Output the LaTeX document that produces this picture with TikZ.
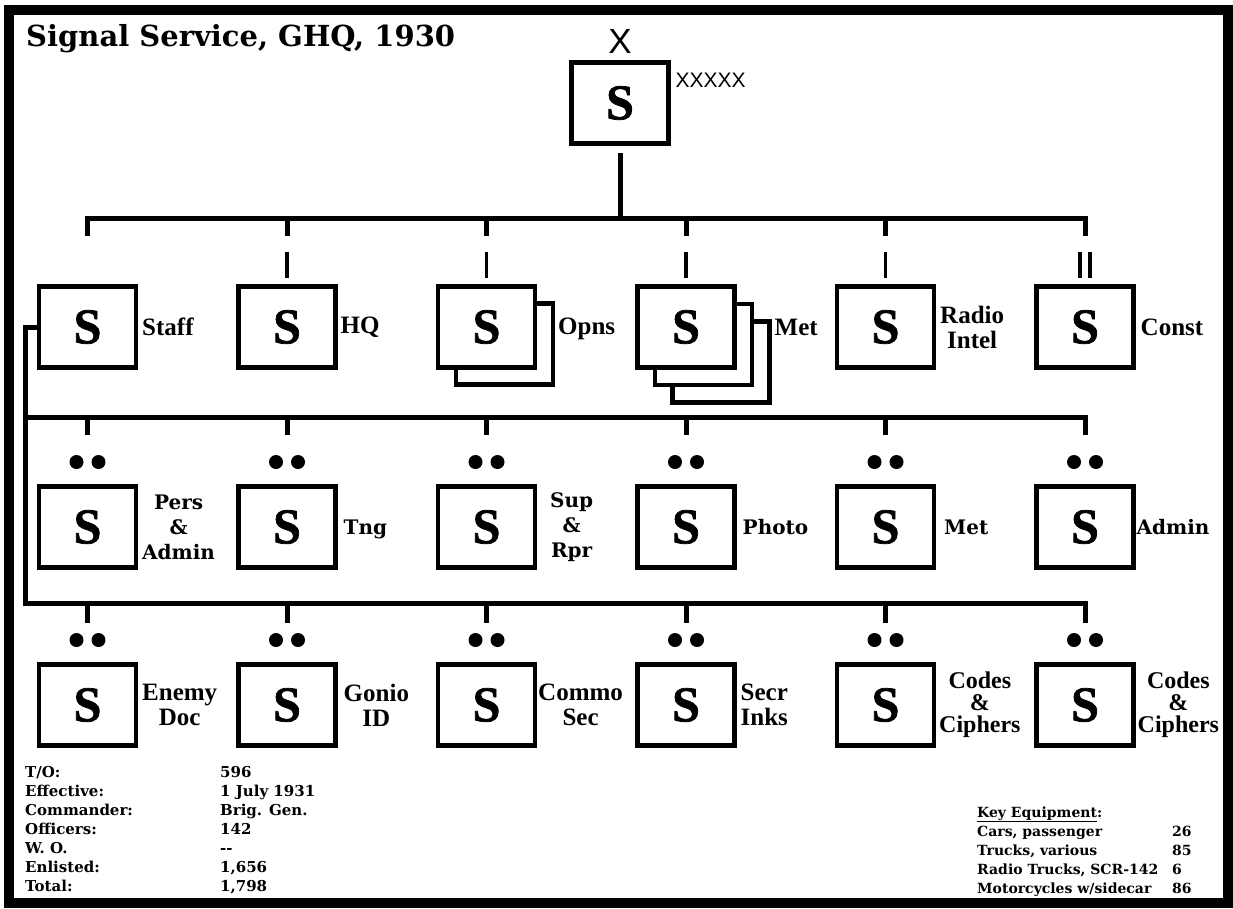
\documentclass[tikz,border=0pt]{standalone}
\usepackage{fontspec}
\setmainfont{Liberation Serif}
\newfontfamily\geo{DejaVu Serif}
\newfontfamily\sans{Liberation Sans}
\newfontfamily\symfont[FakeBold=1.5]{Liberation Serif}
\usetikzlibrary{positioning}

\begin{document}
\begin{tikzpicture}[
      x=1pt, y=-1pt,
      node distance=102.5pt,
      unit/.style={
        draw,
        line width=4.5pt,
        fill=white,
        minimum width=97pt,
        minimum height=81pt,
        inner sep=0pt,
        outer sep=0pt,
        font={\symfont\bfseries\fontsize{50}{50}\selectfont}
      },
      lbl/.style={
        align=center,
        inner sep=0pt,
        font={\bfseries\fontsize{25}{25}\selectfont}
      },
      lblg/.style={
        align=center,
        inner sep=0pt,
        font={\geo\bfseries\fontsize{20}{25}\selectfont}
      },
      bus/.style={line width=5pt},
      tick/.style={line width=3.5pt},
      shadow/.style={line width=4.5pt}
    ]

    \useasboundingbox (0,0) rectangle (1233,908);
    \draw[line width=10pt] (9,10) rectangle (1228,903);

    \node[anchor=base west, inner sep=0pt, font={\geo\bfseries\fontsize{29}{29}\selectfont}] (title) at (26,46) {Signal Service, GHQ, 1930};

    % top echelon
    \node[unit] (gen) at (620,103) {S};
    \node[anchor=base, inner sep=0pt, font={\sans\fontsize{35}{35}\selectfont}] (gen-x) at ([yshift=9pt]gen.north) {X};
    \node[anchor=base west, inner sep=0pt, font={\sans\fontsize{21}{21}\selectfont}] (gen-xx) at ([xshift=7pt,yshift=-24.5pt]gen.north east) {XXXXX};

    % first row
    \node[unit] (staff) at (87.5,327) {S};
    \node[unit, right=of staff] (hq) {S};
    \node[unit, right=of hq] (opns) {S};
    \node[unit, right=of opns] (met) {S};
    \node[unit, right=of met] (radint) {S};
    \node[unit, right=of radint] (const) {S};

    \draw[shadow] ([yshift=-17pt]opns.north east) -| ([xshift=18pt,yshift=-17pt]opns.south east) -| ([xshift=18pt]opns.south west);
    \draw[shadow] ([yshift=-17.5pt]met.north east) -| ([xshift=17.5pt,yshift=-17.5pt]met.south east) -| ([xshift=17.5pt]met.south west);
    \draw[shadow] ([xshift=17.5pt,yshift=-35pt]met.north east) -| ([xshift=35pt,yshift=-35pt]met.south east) -| ([xshift=35pt,yshift=-17.5pt]met.south west);

    \node[lbl, right=6pt of staff] (staff-l) {Staff};
    \node[lbl, right=5pt of hq] (hq-l) {HQ};
    \node[lbl, right=23pt of opns, yshift=-2pt] (opns-l) {Opns};
    \node[lbl, right=40pt of met] (met-l) {Met};
    \node[lbl, right=6pt of radint] (radint-l) {Radio\\Intel};
    \node[lbl, right=7pt of const] (const-l) {Const};

    % second row
    \node[unit] (pers) at (87.5,527) {S};
    \node[unit, right=of pers] (tng) {S};
    \node[unit, right=of tng] (sup) {S};
    \node[unit, right=of sup] (photo) {S};
    \node[unit, right=of photo] (metsec) {S};
    \node[unit, right=of metsec] (admin) {S};

    \node[lblg, right=6pt of pers] (pers-l) {Pers\\\&\\Admin};
    \node[lblg, right=8pt of tng, yshift=-2pt] (tng-l) {Tng};
    \node[lblg, right=15pt of sup] (sup-l) {Sup\\\&\\Rpr};
    \node[lblg, right=8pt of photo] (photo-l) {Photo};
    \node[lblg, right=10pt of metsec] (metsec-l) {Met};
    \node[lblg, right=3pt of admin] (admin-l) {Admin};

    % third row
    \node[unit] (enemy) at (87.5,705) {S};
    \node[unit, right=of enemy] (gonio) {S};
    \node[unit, right=of gonio] (commo) {S};
    \node[unit, right=of commo] (secr) {S};
    \node[unit, right=of secr] (codes) {S};
    \node[unit, right=of codes] (codesb) {S};

    \node[lbl, right=6pt of enemy] (enemy-l) {Enemy\\Doc};
    \node[lbl, right=8pt of gonio] (gonio-l) {Gonio\\ID};
    \node[lbl, right=3pt of commo] (commo-l) {Commo\\Sec};
    \node[lbl, right=6pt of secr] (secr-l) {Secr\\Inks};
    \node[lbl, font={\bfseries\fontsize{24}{22}\selectfont}, right=5pt of codes] (codes-l) {Codes\\\&\\Ciphers};
    \node[lbl, font={\bfseries\fontsize{24}{22}\selectfont}, right=4pt of codesb] (codesb-l) {Codes\\\&\\Ciphers};

    % size marks
    \foreach \n in {hq,opns,met,radint}
      \draw[tick] ([yshift=9pt]\n.north) -- ++(0,-26);
    \draw[tick] ([xshift=-5pt,yshift=9pt]const.north) -- ++(0,-26);
    \draw[tick] ([xshift=5pt,yshift=9pt]const.north) -- ++(0,-26);
    \foreach \n in {pers,tng,sup,photo,metsec,admin,enemy,gonio,commo,secr,codes,codesb}
      \fill ([xshift=-11pt,yshift=24.5pt]\n.north) circle[radius=7pt]
            ([xshift=11pt,yshift=24.5pt]\n.north) circle[radius=7pt];

    % lines
    \coordinate (topbus) at (0,218);
    \coordinate (midbus) at (25,417);
    \coordinate (lowbus) at (25,603);

    \draw[bus] ([yshift=-9.5pt]gen.south) -- (gen |- topbus);
    \draw[bus] (staff |- topbus) ++(0,18) -- (staff |- topbus) -- (const |- topbus) -- ++(0,18);
    \foreach \n in {hq,opns,met,radint}
      \draw[bus] (\n |- topbus) -- ++(0,18);

    \draw[bus] (staff.west) -| (lowbus) -- (lowbus -| codesb) -- ++(0,20);
    \draw[bus] (midbus) -- (midbus -| admin) -- ++(0,18);
    \foreach \n in {pers,tng,sup,photo,metsec}
      \draw[bus] (\n |- midbus) -- ++(0,18);
    \foreach \n in {enemy,gonio,commo,secr,codes}
      \draw[bus] (\n |- lowbus) -- ++(0,20);

    % totals
    \node[anchor=base west, inner sep=0pt, font={\geo\bfseries\fontsize{15}{19}\selectfont}] (totals) at (25,777) {%
      \begin{tabular}[t]{@{}p{195pt}@{}l@{}}
        T/O: & 596\\
        Effective: & 1 July 1931\\
        Commander: & Brig. Gen.\\
        Officers: & 142\\
        W. O. & {-}{-}\\
        Enlisted: & 1,656\\
        Total: & 1,798
      \end{tabular}};

    \node[anchor=base west, inner sep=0pt, font={\geo\bfseries\fontsize{14}{19}\selectfont}] (equip) at (977,817) {%
      \begin{tabular}[t]{@{}p{195pt}@{}l@{}}
        \underline{Key Equipment}: & \\
        Cars, passenger & 26\\
        Trucks, various & 85\\
        Radio Trucks, SCR-142 & 6\\
        Motorcycles w/sidecar & 86
      \end{tabular}};

    \end{tikzpicture}
\end{document}
